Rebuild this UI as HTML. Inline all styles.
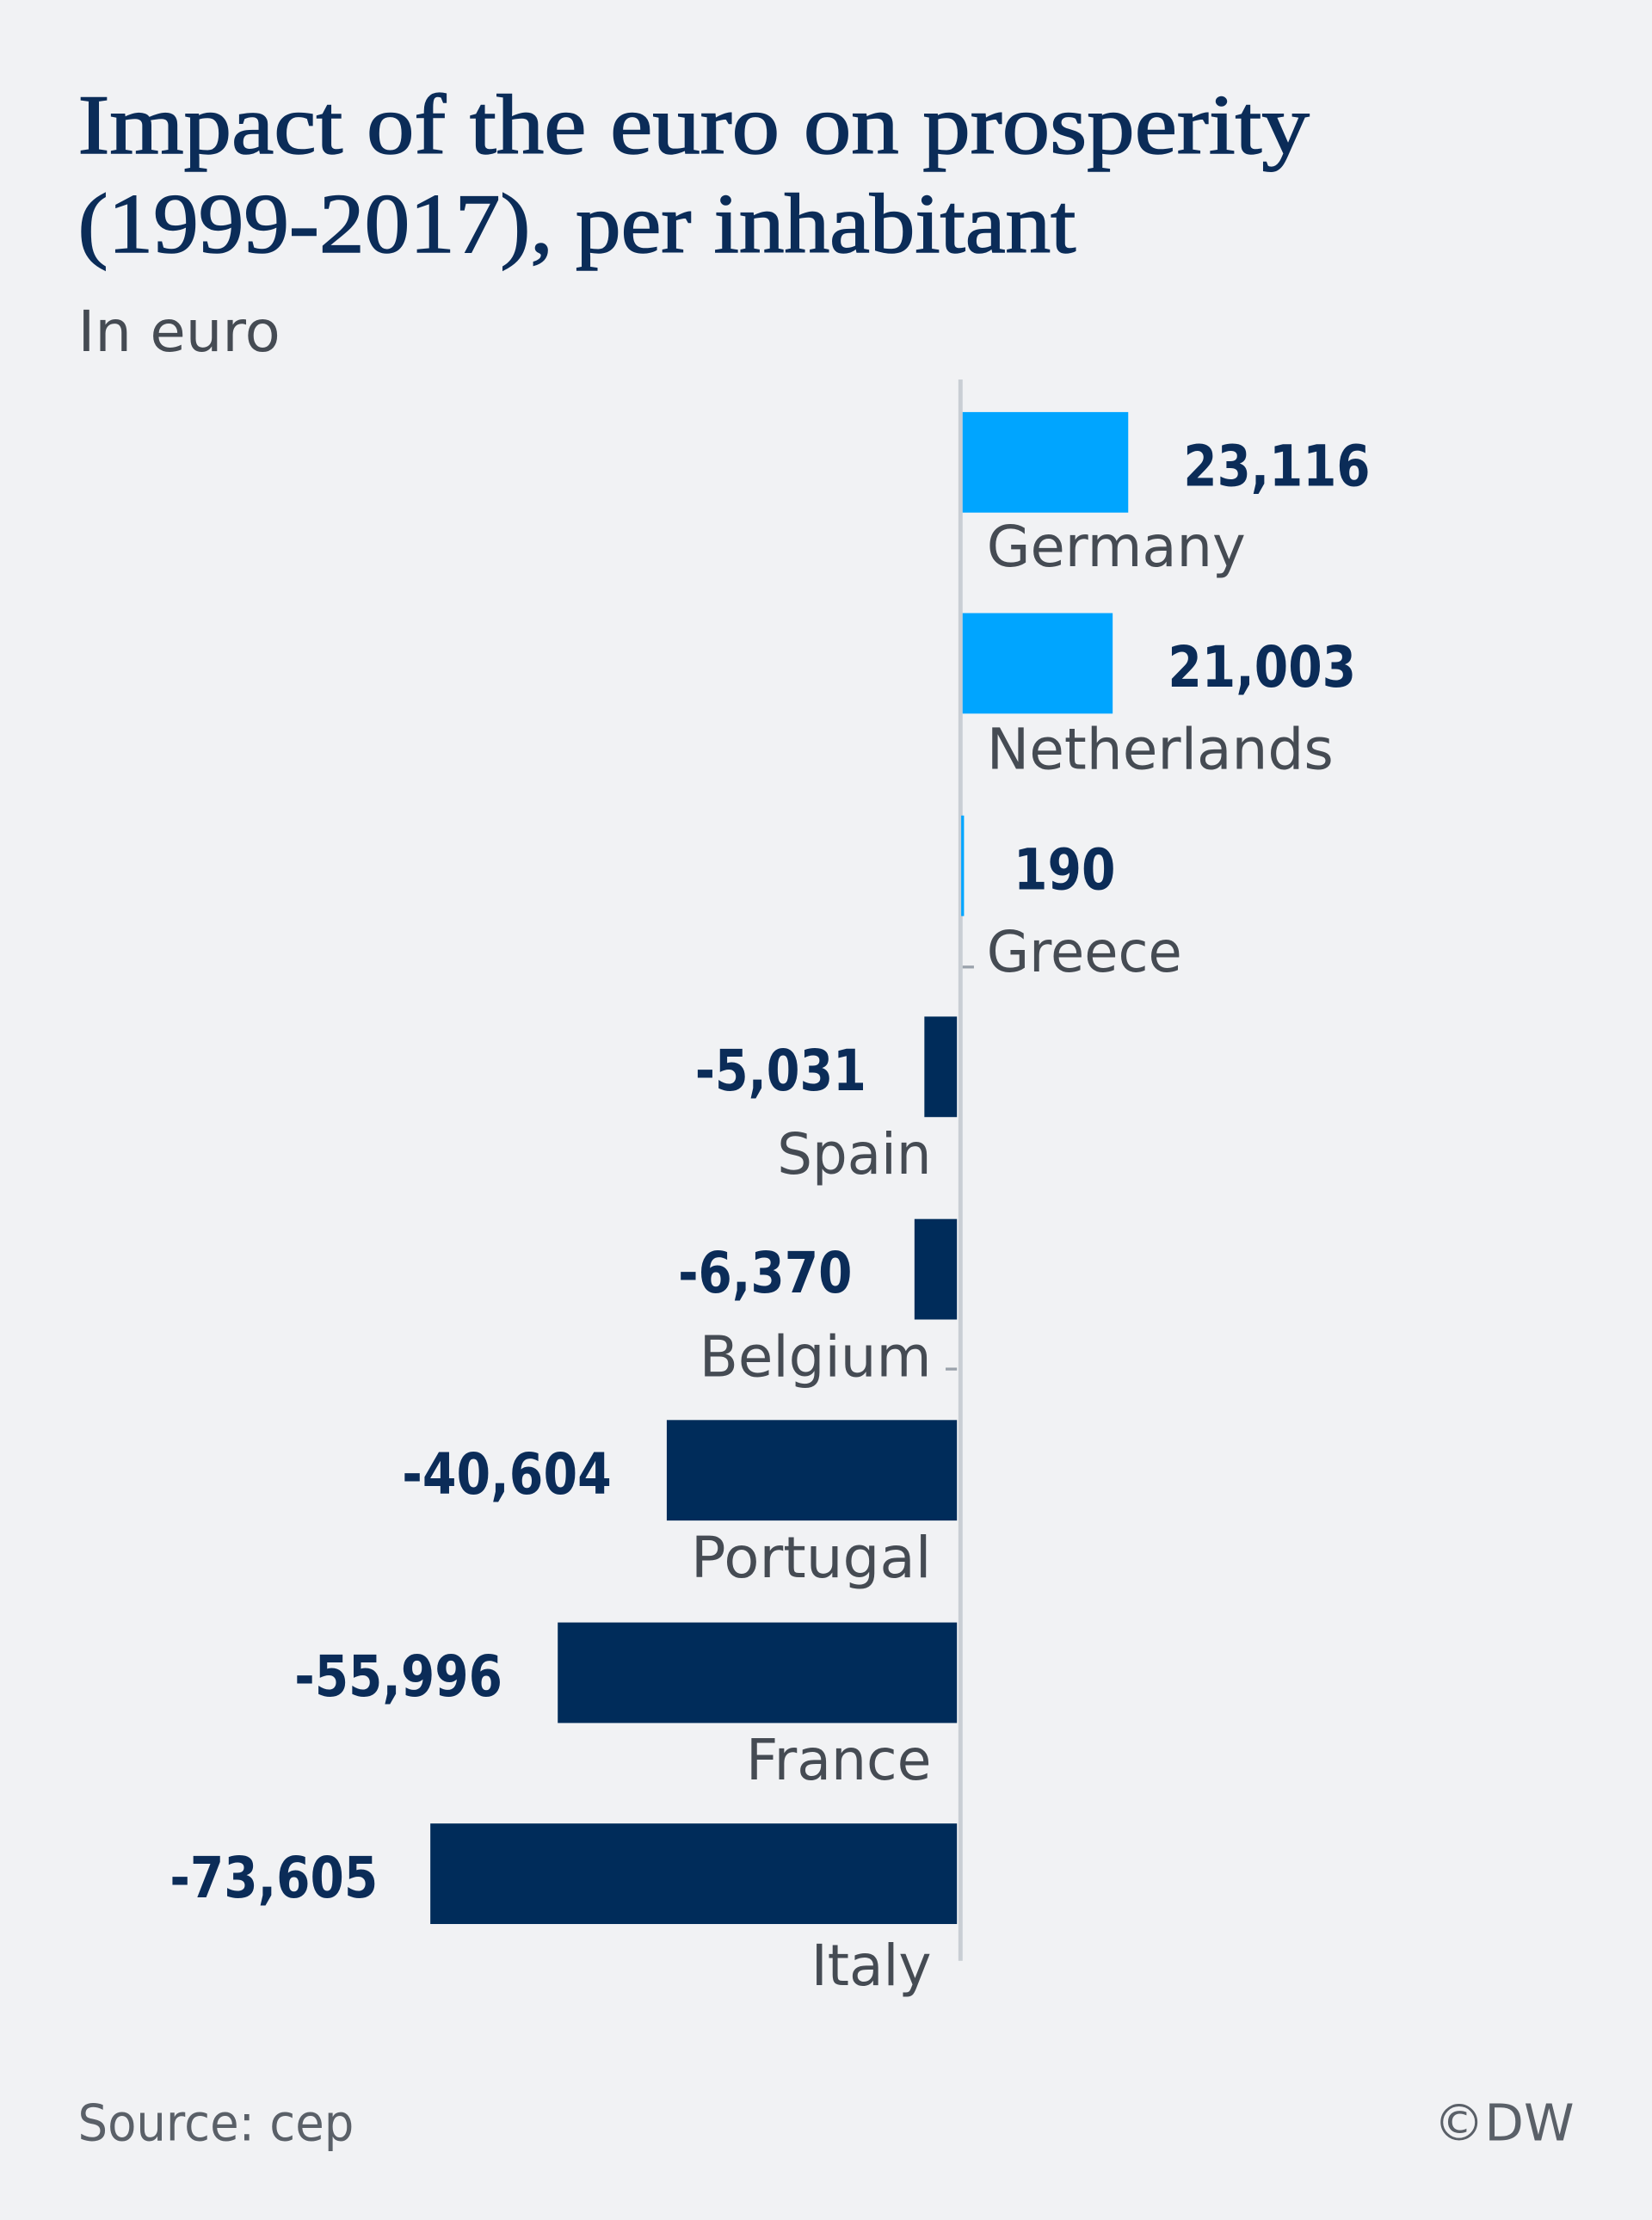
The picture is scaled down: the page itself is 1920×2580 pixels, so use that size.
<!DOCTYPE html>
<html><head><meta charset="utf-8"><style>
html,body{margin:0;padding:0;background:#f1f2f4;}
svg{display:block;}
.t{font-family:"Liberation Serif",serif;fill:#0b2c58;stroke:#0b2c58;stroke-width:0.9px;font-size:60px;}
.s{font-family:"DejaVu Sans","Liberation Sans",sans-serif;fill:#454b53;font-size:40px;}
.v{font-family:"DejaVu Sans","Liberation Sans",sans-serif;fill:#0b2c58;font-size:40px;font-weight:bold;}
</style></head><body>
<svg width="1920" height="2580" viewBox="0 0 1167 1568" xmlns="http://www.w3.org/2000/svg">
<rect width="1167" height="1568" fill="#f1f2f4"/>
<text class="t" x="55" y="108" textLength="870" lengthAdjust="spacingAndGlyphs">Impact of the euro on prosperity</text>
<text class="t" x="55" y="178" textLength="705" lengthAdjust="spacingAndGlyphs">(1999-2017), per inhabitant</text>
<text class="s" x="55" y="248" textLength="143" lengthAdjust="spacingAndGlyphs">In euro</text>
<rect x="677" y="268" width="3" height="1117" fill="#c9ced4"/>
<g fill="#00a5ff">
<rect x="680" y="291" width="117" height="71"/>
<rect x="680" y="433" width="106" height="71"/>
<rect x="679" y="576" width="2" height="71"/>
</g>
<g fill="#002c5a">
<rect x="653" y="718" width="23" height="71"/>
<rect x="646" y="861" width="30" height="71"/>
<rect x="471" y="1003" width="205" height="71"/>
<rect x="394" y="1146" width="282" height="71"/>
<rect x="304" y="1288" width="372" height="71"/>
</g>
<rect x="680" y="682" width="8" height="2" fill="#9aa2ab"/>
<rect x="668" y="966" width="8" height="2" fill="#9aa2ab"/>
<text class="v" x="836" y="343" textLength="132" lengthAdjust="spacingAndGlyphs">23,116</text>
<text class="s" x="697" y="400" textLength="183" lengthAdjust="spacingAndGlyphs">Germany</text>
<text class="v" x="825" y="485" textLength="133" lengthAdjust="spacingAndGlyphs">21,003</text>
<text class="s" x="697" y="543" textLength="245" lengthAdjust="spacingAndGlyphs">Netherlands</text>
<text class="v" x="716" y="628" textLength="72" lengthAdjust="spacingAndGlyphs">190</text>
<text class="s" x="697" y="686" textLength="138" lengthAdjust="spacingAndGlyphs">Greece</text>
<text class="v" x="491" y="770" textLength="121" lengthAdjust="spacingAndGlyphs">-5,031</text>
<text class="s" x="549" y="829" textLength="109" lengthAdjust="spacingAndGlyphs">Spain</text>
<text class="v" x="479" y="913" textLength="123" lengthAdjust="spacingAndGlyphs">-6,370</text>
<text class="s" x="494" y="972" textLength="164" lengthAdjust="spacingAndGlyphs">Belgium</text>
<text class="v" x="284" y="1055" textLength="148" lengthAdjust="spacingAndGlyphs">-40,604</text>
<text class="s" x="488" y="1114" textLength="170" lengthAdjust="spacingAndGlyphs">Portugal</text>
<text class="v" x="208" y="1198" textLength="147" lengthAdjust="spacingAndGlyphs">-55,996</text>
<text class="s" x="527" y="1257" textLength="131" lengthAdjust="spacingAndGlyphs">France</text>
<text class="v" x="120" y="1340" textLength="147" lengthAdjust="spacingAndGlyphs">-73,605</text>
<text class="s" x="573" y="1402" textLength="85" lengthAdjust="spacingAndGlyphs">Italy</text>
<text class="s" x="55" y="1512" textLength="195" lengthAdjust="spacingAndGlyphs" style="fill:#5a6068;font-size:36px">Source: cep</text>
<text class="s" x="1112" y="1512" text-anchor="end" style="fill:#5a6068;font-size:36px">©DW</text>
</svg>
</body></html>
